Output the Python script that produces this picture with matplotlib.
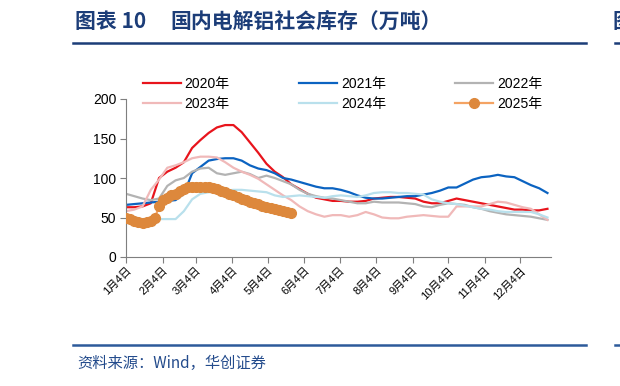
import matplotlib.pyplot as plt
import numpy as np
from matplotlib.lines import Line2D

plt.rcParams['font.family'] = ['Liberation Sans', 'Noto Sans CJK SC', 'DejaVu Sans']

# 数据：每周读数（万吨），日期为一年中的第几天
week_days = np.arange(3, 3 + 7 * 52, 7)
inv_2020 = [63, 63, 64, 68, 100, 108, 113, 120, 138, 148, 157, 164, 167, 167, 158, 145,
            132, 118, 108, 101, 92, 86, 80, 75, 73, 71, 71, 70, 70, 71, 74, 75,
            76, 76, 75, 74, 70, 68, 68, 71, 74, 72, 70, 68, 66, 64, 62, 60,
            60, 59, 59, 61]
inv_2021 = [66, 67, 68, 69, 70, 71, 72, 80, 106, 114, 122, 124, 125, 125, 122, 116,
            112, 110, 106, 100, 98, 95, 92, 89, 87, 87, 85, 82, 78, 75, 74, 74,
            75, 76, 77, 77, 79, 81, 84, 88, 88, 93, 98, 101, 102, 104, 102, 101,
            96, 91, 87, 81]
inv_2022 = [80, 77, 74, 72, 74, 90, 97, 100, 108, 112, 113, 106, 104, 106, 108, 105,
            100, 103, 100, 96, 92, 85, 80, 77, 75, 74, 72, 70, 68, 68, 70, 69,
            69, 69, 68, 67, 64, 63, 66, 68, 67, 66, 63, 61, 58, 56, 54, 53,
            52, 51, 49, 47]
inv_2023 = [58, 60, 64, 85, 98, 113, 116, 120, 125, 127, 127, 126, 120, 113, 108, 104,
            99, 92, 85, 78, 72, 64, 58, 54, 51, 53, 53, 51, 53, 57, 54, 50,
            49, 49, 51, 52, 53, 52, 51, 51, 64, 64, 64, 64, 67, 70, 69, 66,
            63, 61, 54, 47]
inv_2024 = [47, 46, 46, 47, 48, 48, 48, 58, 73, 80, 82, 83, 84, 85, 85, 84,
            83, 82, 78, 76, 77, 78, 77, 76, 75, 77, 78, 77, 76, 78, 81, 82,
            82, 81, 81, 80, 79, 73, 70, 68, 67, 65, 63, 61, 60, 58, 57, 57,
            57, 57, 54, 50]
# 2025年为每周两次数据
days_2025 = np.arange(41) * 3.5 + 3
inv_2025 = [49, 48, 45, 44, 43, 44, 45, 49, 65, 72, 75, 78, 80, 84, 86, 88,
            89, 89, 89, 88, 88, 87, 86, 84, 82, 80, 78, 76, 74, 72, 70, 68,
            67, 65, 63, 62, 61, 59, 58, 57, 56]

tick_days = [3, 34, 62, 93, 123, 154, 184, 215, 246, 276, 307, 337]
tick_labels = ['1月4日', '2月4日', '3月4日', '4月4日', '5月4日', '6月4日',
               '7月4日', '8月4日', '9月4日', '10月4日', '11月4日', '12月4日']

W, H = 620, 386
fig = plt.figure(figsize=(W / 100, H / 100), dpi=100)
ax = fig.add_axes([126 / W, 1 - 257 / H, 425 / W, 158 / H])

lw = 1.6
l20, = ax.plot(week_days, inv_2020, color='#e8141c', lw=lw, label='2020年')
l21, = ax.plot(week_days, inv_2021, color='#0b63c1', lw=lw, label='2021年')
l22, = ax.plot(week_days, inv_2022, color='#b3b3b3', lw=lw, label='2022年')
l23, = ax.plot(week_days, inv_2023, color='#f0b9b9', lw=lw, label='2023年')
l24, = ax.plot(week_days, inv_2024, color='#b9e0ec', lw=lw, label='2024年')
l25, = ax.plot(days_2025, inv_2025, color='#f4a363', lw=lw, marker='o', markersize=7,
               markerfacecolor='#dd883c', markeredgecolor='#dd883c', label='2025年', zorder=5)

ax.set_xlim(3, 363)
ax.set_ylim(0, 200)
ax.set_yticks([0, 50, 100, 150, 200])
ax.set_xticks(tick_days)
ax.set_xticklabels(tick_labels, rotation=45, ha='right', rotation_mode='anchor', fontsize=8)
ax.tick_params(axis='y', labelsize=10, length=4, color='#7f7f7f', pad=3)
ax.tick_params(axis='x', length=4, color='#7f7f7f', direction='out', pad=2)
for s in ['top', 'right']:
    ax.spines[s].set_visible(False)
for s in ['left', 'bottom']:
    ax.spines[s].set_color('#7f7f7f')

handles = [l20, l23, l21, l24, l22, l25]
fig.legend(handles=handles, labels=[h.get_label() for h in handles], ncol=3,
           loc='upper left', bbox_to_anchor=(143 / W, 1 - 77 / H), frameon=False,
           fontsize=10, handlelength=2.7, handletextpad=0.3, columnspacing=5.0,
           labelspacing=0.42, borderpad=0, borderaxespad=0)

# 标题与来源
navy = '#1c3d78'
fig.text(75 / W, 1 - 21 / H, '图表 10', fontsize=15, fontweight='bold', color=navy,
         va='center', family=['Noto Sans CJK SC'])
fig.text(170 / W, 1 - 21 / H, '国内电解铝社会库存（万吨）', fontsize=15, fontweight='bold',
         color=navy, va='center', family=['Noto Sans CJK SC'])
fig.text(613 / W, 1 - 21 / H, '图', fontsize=15, fontweight='bold', color=navy,
         va='center', family=['Noto Sans CJK SC'])
fig.add_artist(Line2D([73 / W, 586 / W], [1 - 43 / H, 1 - 43 / H], color=navy, lw=1.8))
fig.add_artist(Line2D([615 / W, 1], [1 - 43 / H, 1 - 43 / H], color=navy, lw=1.8))
fig.add_artist(Line2D([73 / W, 586 / W], [1 - 345 / H, 1 - 345 / H], color='#2d5a9a', lw=1.8))
fig.add_artist(Line2D([615 / W, 1], [1 - 345 / H, 1 - 345 / H], color='#2d5a9a', lw=1.8))
fig.text(77 / W, 1 - 363 / H, '资料来源：Wind，华创证券', fontsize=11, color='#234b8c',
         va='center', style='italic', family=['Noto Sans CJK SC', 'DejaVu Sans'])

fig.savefig('out.png', dpi=100)
